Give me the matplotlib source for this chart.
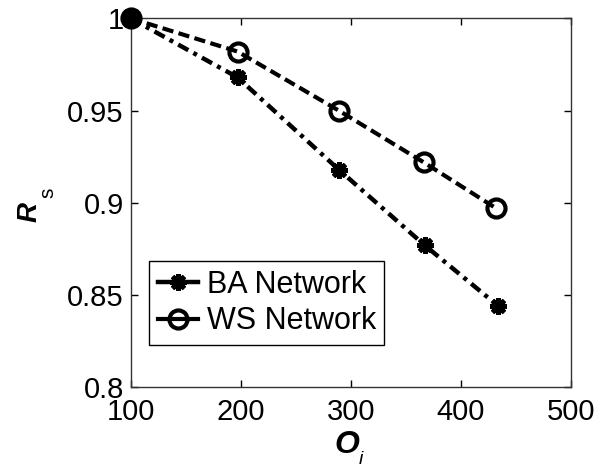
import matplotlib
matplotlib.use("Agg")
import matplotlib.pyplot as plt
from matplotlib.ticker import FixedLocator, FixedFormatter

plt.rcParams['font.family'] = ['Liberation Sans', 'DejaVu Sans']

# data
ba_x = [100, 197, 289, 367, 434]
ba_y = [1.0, 0.968, 0.918, 0.877, 0.844]
ws_x = [100, 197, 289, 366, 432]
ws_y = [1.0, 0.982, 0.950, 0.922, 0.897]
x_ticks = [100, 200, 300, 400, 500]
y_ticks = [0.8, 0.85, 0.9, 0.95, 1.0]
y_tick_labels = ['0.8', '0.85', '0.9', '0.95', '1']

W, H = 597, 470
fig = plt.figure(figsize=(W / 100, H / 100), dpi=100)
ax = fig.add_axes([0.219, 0.176, 0.7375, 0.785])

ax.plot(ba_x, ba_y, color='black', lw=3.2, dashes=(2.6, 1.3, 0.9, 1.3),
        marker=(8, 2, 0), markersize=12, markeredgewidth=3.5,
        label='BA Network', clip_on=False, zorder=3)
ax.plot(ws_x, ws_y, color='black', lw=3.0, dashes=(2.7, 1.3),
        marker='o', markersize=13, markerfacecolor='none', markeredgewidth=3,
        label='WS Network', clip_on=False, zorder=3)

ax.set_xlim(100, 500)
ax.set_ylim(0.8, 1.0)
ax.xaxis.set_major_locator(FixedLocator(x_ticks))
ax.yaxis.set_major_locator(FixedLocator(y_ticks))
ax.yaxis.set_major_formatter(FixedFormatter(y_tick_labels))
ax.tick_params(direction='in', length=5, width=1, labelsize=21,
               top=True, right=True)
ax.tick_params(axis='x', pad=8)
ax.tick_params(axis='y', pad=5)
for s in ax.spines.values():
    s.set_linewidth(1)
    s.set_color('#333333')

# axis labels (MATLAB-style subscripts fully below the baseline)
def px(x, y):
    return x / W, 1 - y / H

fig.text(*px(334, 453), 'O', fontsize=23, fontweight='bold',
         fontstyle='italic', ha='left', va='baseline',
         family='Liberation Sans')
fig.text(*px(359, 451), 'i', fontsize=14, fontstyle='italic',
         ha='left', va='top')
fig.text(*px(37, 222), 'R', fontsize=20, fontweight='bold',
         fontstyle='italic', rotation=90, rotation_mode='anchor',
         ha='left', va='baseline', family='Liberation Sans')
fig.text(*px(53, 198), 's', fontsize=15, rotation=90,
         rotation_mode='anchor', ha='left', va='baseline')

leg = ax.legend(loc='lower left', bbox_to_anchor=(0.042, 0.115),
                borderaxespad=0, fontsize=22, handlelength=1.3,
                handletextpad=0.3, borderpad=0.28, labelspacing=0.22,
                fancybox=False, framealpha=1, edgecolor='black')
leg.get_frame().set_linewidth(1)
for ln in leg.get_lines():
    ln.set_linestyle('-')

fig.savefig('out.png', dpi=100)
